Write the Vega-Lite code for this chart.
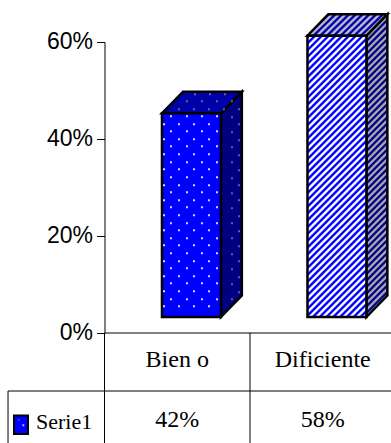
{
"$schema":"https://vega.github.io/schema/vega-lite/v6.json",
"width":286.5,"height":291,
"autosize":{"type":"none"},
"padding":{"left":104.5,"top":42,"right":0,"bottom":110},
"background":"white",
"config":{"view":{"stroke":null},"axisX":{"disable":true}},
"data":{"values":[{"categoria":"Bien o","valor":42},{"categoria":"Dificiente","valor":58}]},
"transform":[
{"calculate":"indexof(['Bien o','Dificiente'],datum.categoria)","as":"idx"},
{"calculate":"datum.idx+0.5","as":"cx"},
{"calculate":"datum.idx+0.395","as":"xL"},
{"calculate":"datum.xL+0.405","as":"xR"},
{"calculate":"[0,1]","as":"prof"},
{"flatten":["prof"]},
{"calculate":"datum.xR+datum.prof*0.144","as":"xLado"},
{"calculate":"datum.xL+datum.prof*0.144","as":"xTecho"},
{"calculate":"datum.xR+datum.prof*0.144","as":"x2Techo"},
{"calculate":"datum.prof*4.43","as":"yBase"},
{"calculate":"datum.valor+datum.prof*4.43","as":"yAlto"}
],
"layer":[
{"transform":[{"filter":"datum.idx==0"}],
 "mark":{"type":"area","fill":"#000080","stroke":"#000","strokeWidth":2.5,"yOffset":-16,"y2Offset":-16},
 "encoding":{"x":{"field":"xLado","type":"quantitative","scale":{"domain":[0,1.969],"nice":false,"zero":false}},
 "y":{"field":"yAlto","type":"quantitative","scale":{"domain":[0,60],"nice":false},"axis":{"title":null,"values":[0,20,40,60],"labelExpr":"datum.value+'%'","domainColor":"#000","tickColor":"#000","tickSize":8,"labelPadding":4,"labelFont":"Liberation Sans","labelFontSize":23,"labelColor":"#000","labelOffset":-1,"grid":false}},
 "y2":{"field":"yBase"}}},
{"transform":[{"filter":"datum.idx==0"}],
 "mark":{"type":"area","orient":"horizontal","fill":"#0000a8","stroke":"#000","strokeWidth":2.5,"yOffset":-16},
 "encoding":{"y":{"field":"yAlto","type":"quantitative"},"x":{"field":"xTecho","type":"quantitative"},"x2":{"field":"x2Techo"}}},
{"transform":[{"filter":"datum.idx==0 && datum.prof==0"}],
 "mark":{"type":"rect","fill":"#0000ff","stroke":"#000","strokeWidth":2.5,"yOffset":-16,"y2Offset":-16},
 "encoding":{"x":{"field":"xL","type":"quantitative"},"x2":{"field":"xR"},"y":{"field":"valor","type":"quantitative"},"y2":{"datum":0}}},
{"transform":[{"filter":"datum.idx==0 && datum.prof==0"}],
 "mark":{"type":"point","filled":true,"fill":"#ffffff","fillOpacity":0.85,"strokeWidth":0,"size":4,"yOffset":-16,
 "shape":"M8 2h2v2h-2zM24 2h2v2h-2zM39 2h2v2h-2zM54 2h2v2h-2zM1 10h2v2h-2zM16 10h2v2h-2zM31 10h2v2h-2zM46 10h2v2h-2zM8 17h2v2h-2zM24 17h2v2h-2zM39 17h2v2h-2zM54 17h2v2h-2zM1 25h2v2h-2zM16 25h2v2h-2zM31 25h2v2h-2zM46 25h2v2h-2zM8 32h2v2h-2zM24 32h2v2h-2zM39 32h2v2h-2zM54 32h2v2h-2zM1 40h2v2h-2zM16 40h2v2h-2zM31 40h2v2h-2zM46 40h2v2h-2zM8 48h2v2h-2zM24 48h2v2h-2zM39 48h2v2h-2zM54 48h2v2h-2zM1 55h2v2h-2zM16 55h2v2h-2zM31 55h2v2h-2zM46 55h2v2h-2zM8 63h2v2h-2zM24 63h2v2h-2zM39 63h2v2h-2zM54 63h2v2h-2zM1 71h2v2h-2zM16 71h2v2h-2zM31 71h2v2h-2zM46 71h2v2h-2zM8 78h2v2h-2zM24 78h2v2h-2zM39 78h2v2h-2zM54 78h2v2h-2zM1 86h2v2h-2zM16 86h2v2h-2zM31 86h2v2h-2zM46 86h2v2h-2zM8 93h2v2h-2zM24 93h2v2h-2zM39 93h2v2h-2zM54 93h2v2h-2zM1 101h2v2h-2zM16 101h2v2h-2zM31 101h2v2h-2zM46 101h2v2h-2zM8 109h2v2h-2zM24 109h2v2h-2zM39 109h2v2h-2zM54 109h2v2h-2zM1 116h2v2h-2zM16 116h2v2h-2zM31 116h2v2h-2zM46 116h2v2h-2zM8 124h2v2h-2zM24 124h2v2h-2zM39 124h2v2h-2zM54 124h2v2h-2zM1 131h2v2h-2zM16 131h2v2h-2zM31 131h2v2h-2zM46 131h2v2h-2zM8 139h2v2h-2zM24 139h2v2h-2zM39 139h2v2h-2zM54 139h2v2h-2zM1 147h2v2h-2zM16 147h2v2h-2zM31 147h2v2h-2zM46 147h2v2h-2zM8 154h2v2h-2zM24 154h2v2h-2zM39 154h2v2h-2zM54 154h2v2h-2zM1 162h2v2h-2zM16 162h2v2h-2zM31 162h2v2h-2zM46 162h2v2h-2zM8 169h2v2h-2zM24 169h2v2h-2zM39 169h2v2h-2zM54 169h2v2h-2zM1 177h2v2h-2zM16 177h2v2h-2zM31 177h2v2h-2zM46 177h2v2h-2zM8 185h2v2h-2zM24 185h2v2h-2zM39 185h2v2h-2zM54 185h2v2h-2zM1 192h2v2h-2zM16 192h2v2h-2zM31 192h2v2h-2zM46 192h2v2h-2z"},
 "encoding":{"x":{"field":"xL","type":"quantitative"},"y":{"field":"valor","type":"quantitative"}}},
{"transform":[{"filter":"datum.idx==0 && datum.prof==0"}],
 "mark":{"type":"point","filled":true,"fill":"#8a8ab0","strokeWidth":0,"size":4,"yOffset":-16,
 "shape":"M69 3h2v2h-2zM69 18h2v2h-2zM69 33h2v2h-2zM69 48h2v2h-2zM69 64h2v2h-2zM69 79h2v2h-2zM69 94h2v2h-2zM69 109h2v2h-2zM69 124h2v2h-2zM69 140h2v2h-2zM69 155h2v2h-2zM69 170h2v2h-2zM69 185h2v2h-2zM76 -5h2v2h-2zM76 10h2v2h-2zM76 26h2v2h-2zM76 41h2v2h-2zM76 56h2v2h-2zM76 71h2v2h-2zM76 86h2v2h-2zM76 102h2v2h-2zM76 117h2v2h-2zM76 132h2v2h-2zM76 147h2v2h-2zM76 163h2v2h-2zM76 178h2v2h-2zM32 -20h2v2h-2zM47 -20h2v2h-2zM62 -20h2v2h-2zM24 -13h2v2h-2zM39 -13h2v2h-2zM54 -13h2v2h-2zM69 -13h2v2h-2zM16 -5h2v2h-2zM31 -5h2v2h-2zM46 -5h2v2h-2zM61 -5h2v2h-2z"},
 "encoding":{"x":{"field":"xL","type":"quantitative"},"y":{"field":"valor","type":"quantitative"}}},
{"transform":[{"filter":"datum.idx==1"}],
 "mark":{"type":"area","stroke":"#000","strokeWidth":2.5,"yOffset":-16,"y2Offset":-16,
 "fill":{"gradient":"linear","x1":0,"y1":0,"x2":0.074,"y2":1.0644,"stops":[{"offset":0,"color":"#008"},{"offset":0.005,"color":"#008"},{"offset":0.01,"color":"#aaa"},{"offset":0.015,"color":"#aaa"},{"offset":0.02,"color":"#008"},{"offset":0.025,"color":"#008"},{"offset":0.03,"color":"#aaa"},{"offset":0.035,"color":"#aaa"},{"offset":0.04,"color":"#008"},{"offset":0.045,"color":"#008"},{"offset":0.05,"color":"#aaa"},{"offset":0.055,"color":"#aaa"},{"offset":0.06,"color":"#008"},{"offset":0.065,"color":"#008"},{"offset":0.07,"color":"#aaa"},{"offset":0.075,"color":"#aaa"},{"offset":0.08,"color":"#008"},{"offset":0.085,"color":"#008"},{"offset":0.09,"color":"#aaa"},{"offset":0.095,"color":"#aaa"},{"offset":0.1,"color":"#008"},{"offset":0.105,"color":"#008"},{"offset":0.11,"color":"#aaa"},{"offset":0.115,"color":"#aaa"},{"offset":0.12,"color":"#008"},{"offset":0.125,"color":"#008"},{"offset":0.13,"color":"#aaa"},{"offset":0.135,"color":"#aaa"},{"offset":0.14,"color":"#008"},{"offset":0.145,"color":"#008"},{"offset":0.15,"color":"#aaa"},{"offset":0.155,"color":"#aaa"},{"offset":0.16,"color":"#008"},{"offset":0.165,"color":"#008"},{"offset":0.17,"color":"#aaa"},{"offset":0.175,"color":"#aaa"},{"offset":0.18,"color":"#008"},{"offset":0.185,"color":"#008"},{"offset":0.19,"color":"#aaa"},{"offset":0.195,"color":"#aaa"},{"offset":0.2,"color":"#008"},{"offset":0.205,"color":"#008"},{"offset":0.21,"color":"#aaa"},{"offset":0.215,"color":"#aaa"},{"offset":0.22,"color":"#008"},{"offset":0.225,"color":"#008"},{"offset":0.23,"color":"#aaa"},{"offset":0.235,"color":"#aaa"},{"offset":0.24,"color":"#008"},{"offset":0.245,"color":"#008"},{"offset":0.25,"color":"#aaa"},{"offset":0.255,"color":"#aaa"},{"offset":0.26,"color":"#008"},{"offset":0.265,"color":"#008"},{"offset":0.27,"color":"#aaa"},{"offset":0.275,"color":"#aaa"},{"offset":0.28,"color":"#008"},{"offset":0.285,"color":"#008"},{"offset":0.29,"color":"#aaa"},{"offset":0.295,"color":"#aaa"},{"offset":0.3,"color":"#008"},{"offset":0.305,"color":"#008"},{"offset":0.31,"color":"#aaa"},{"offset":0.315,"color":"#aaa"},{"offset":0.32,"color":"#008"},{"offset":0.325,"color":"#008"},{"offset":0.33,"color":"#aaa"},{"offset":0.335,"color":"#aaa"},{"offset":0.34,"color":"#008"},{"offset":0.345,"color":"#008"},{"offset":0.35,"color":"#aaa"},{"offset":0.355,"color":"#aaa"},{"offset":0.36,"color":"#008"},{"offset":0.365,"color":"#008"},{"offset":0.37,"color":"#aaa"},{"offset":0.375,"color":"#aaa"},{"offset":0.38,"color":"#008"},{"offset":0.385,"color":"#008"},{"offset":0.39,"color":"#aaa"},{"offset":0.395,"color":"#aaa"},{"offset":0.4,"color":"#008"},{"offset":0.405,"color":"#008"},{"offset":0.41,"color":"#aaa"},{"offset":0.415,"color":"#aaa"},{"offset":0.42,"color":"#008"},{"offset":0.425,"color":"#008"},{"offset":0.43,"color":"#aaa"},{"offset":0.435,"color":"#aaa"},{"offset":0.44,"color":"#008"},{"offset":0.445,"color":"#008"},{"offset":0.45,"color":"#aaa"},{"offset":0.455,"color":"#aaa"},{"offset":0.46,"color":"#008"},{"offset":0.465,"color":"#008"},{"offset":0.47,"color":"#aaa"},{"offset":0.475,"color":"#aaa"},{"offset":0.48,"color":"#008"},{"offset":0.485,"color":"#008"},{"offset":0.49,"color":"#aaa"},{"offset":0.495,"color":"#aaa"},{"offset":0.5,"color":"#008"},{"offset":0.505,"color":"#008"},{"offset":0.51,"color":"#aaa"},{"offset":0.515,"color":"#aaa"},{"offset":0.52,"color":"#008"},{"offset":0.525,"color":"#008"},{"offset":0.53,"color":"#aaa"},{"offset":0.535,"color":"#aaa"},{"offset":0.54,"color":"#008"},{"offset":0.545,"color":"#008"},{"offset":0.55,"color":"#aaa"},{"offset":0.555,"color":"#aaa"},{"offset":0.56,"color":"#008"},{"offset":0.565,"color":"#008"},{"offset":0.57,"color":"#aaa"},{"offset":0.575,"color":"#aaa"},{"offset":0.58,"color":"#008"},{"offset":0.585,"color":"#008"},{"offset":0.59,"color":"#aaa"},{"offset":0.595,"color":"#aaa"},{"offset":0.6,"color":"#008"},{"offset":0.605,"color":"#008"},{"offset":0.61,"color":"#aaa"},{"offset":0.615,"color":"#aaa"},{"offset":0.62,"color":"#008"},{"offset":0.625,"color":"#008"},{"offset":0.63,"color":"#aaa"},{"offset":0.635,"color":"#aaa"},{"offset":0.64,"color":"#008"},{"offset":0.645,"color":"#008"},{"offset":0.65,"color":"#aaa"},{"offset":0.655,"color":"#aaa"},{"offset":0.66,"color":"#008"},{"offset":0.665,"color":"#008"},{"offset":0.67,"color":"#aaa"},{"offset":0.675,"color":"#aaa"},{"offset":0.68,"color":"#008"},{"offset":0.685,"color":"#008"},{"offset":0.69,"color":"#aaa"},{"offset":0.695,"color":"#aaa"},{"offset":0.7,"color":"#008"},{"offset":0.705,"color":"#008"},{"offset":0.71,"color":"#aaa"},{"offset":0.715,"color":"#aaa"},{"offset":0.72,"color":"#008"},{"offset":0.725,"color":"#008"},{"offset":0.73,"color":"#aaa"},{"offset":0.735,"color":"#aaa"},{"offset":0.74,"color":"#008"},{"offset":0.745,"color":"#008"},{"offset":0.75,"color":"#aaa"},{"offset":0.755,"color":"#aaa"},{"offset":0.76,"color":"#008"},{"offset":0.765,"color":"#008"},{"offset":0.77,"color":"#aaa"},{"offset":0.775,"color":"#aaa"},{"offset":0.78,"color":"#008"},{"offset":0.785,"color":"#008"},{"offset":0.79,"color":"#aaa"},{"offset":0.795,"color":"#aaa"},{"offset":0.8,"color":"#008"},{"offset":0.805,"color":"#008"},{"offset":0.81,"color":"#aaa"},{"offset":0.815,"color":"#aaa"},{"offset":0.82,"color":"#008"},{"offset":0.825,"color":"#008"},{"offset":0.83,"color":"#aaa"},{"offset":0.835,"color":"#aaa"},{"offset":0.84,"color":"#008"},{"offset":0.845,"color":"#008"},{"offset":0.85,"color":"#aaa"},{"offset":0.855,"color":"#aaa"},{"offset":0.86,"color":"#008"},{"offset":0.865,"color":"#008"},{"offset":0.87,"color":"#aaa"},{"offset":0.875,"color":"#aaa"},{"offset":0.88,"color":"#008"},{"offset":0.885,"color":"#008"},{"offset":0.89,"color":"#aaa"},{"offset":0.895,"color":"#aaa"},{"offset":0.9,"color":"#008"},{"offset":0.905,"color":"#008"},{"offset":0.91,"color":"#aaa"},{"offset":0.915,"color":"#aaa"},{"offset":0.92,"color":"#008"},{"offset":0.925,"color":"#008"},{"offset":0.93,"color":"#aaa"},{"offset":0.935,"color":"#aaa"},{"offset":0.94,"color":"#008"},{"offset":0.945,"color":"#008"},{"offset":0.95,"color":"#aaa"},{"offset":0.955,"color":"#aaa"},{"offset":0.96,"color":"#008"},{"offset":0.965,"color":"#008"},{"offset":0.97,"color":"#aaa"},{"offset":0.975,"color":"#aaa"},{"offset":0.98,"color":"#008"},{"offset":0.985,"color":"#008"},{"offset":0.99,"color":"#aaa"},{"offset":0.995,"color":"#aaa"},{"offset":1,"color":"#008"}]}},
 "encoding":{"x":{"field":"xLado","type":"quantitative"},"y":{"field":"yAlto","type":"quantitative"},"y2":{"field":"yBase"}}},
{"transform":[{"filter":"datum.idx==1"}],
 "mark":{"type":"area","orient":"horizontal","stroke":"#000","strokeWidth":2.5,"yOffset":-16,
 "fill":{"gradient":"linear","x1":0,"y1":0,"x2":1.185,"y2":0.326,"stops":[{"offset":0,"color":"#00a"},{"offset":0.0167,"color":"#00a"},{"offset":0.0333,"color":"#bbc"},{"offset":0.05,"color":"#bbc"},{"offset":0.0667,"color":"#00a"},{"offset":0.0833,"color":"#00a"},{"offset":0.1,"color":"#bbc"},{"offset":0.1167,"color":"#bbc"},{"offset":0.1333,"color":"#00a"},{"offset":0.15,"color":"#00a"},{"offset":0.1667,"color":"#bbc"},{"offset":0.1833,"color":"#bbc"},{"offset":0.2,"color":"#00a"},{"offset":0.2167,"color":"#00a"},{"offset":0.2333,"color":"#bbc"},{"offset":0.25,"color":"#bbc"},{"offset":0.2667,"color":"#00a"},{"offset":0.2833,"color":"#00a"},{"offset":0.3,"color":"#bbc"},{"offset":0.3167,"color":"#bbc"},{"offset":0.3333,"color":"#00a"},{"offset":0.35,"color":"#00a"},{"offset":0.3667,"color":"#bbc"},{"offset":0.3833,"color":"#bbc"},{"offset":0.4,"color":"#00a"},{"offset":0.4167,"color":"#00a"},{"offset":0.4333,"color":"#bbc"},{"offset":0.45,"color":"#bbc"},{"offset":0.4667,"color":"#00a"},{"offset":0.4833,"color":"#00a"},{"offset":0.5,"color":"#bbc"},{"offset":0.5167,"color":"#bbc"},{"offset":0.5333,"color":"#00a"},{"offset":0.55,"color":"#00a"},{"offset":0.5667,"color":"#bbc"},{"offset":0.5833,"color":"#bbc"},{"offset":0.6,"color":"#00a"},{"offset":0.6167,"color":"#00a"},{"offset":0.6333,"color":"#bbc"},{"offset":0.65,"color":"#bbc"},{"offset":0.6667,"color":"#00a"},{"offset":0.6833,"color":"#00a"},{"offset":0.7,"color":"#bbc"},{"offset":0.7167,"color":"#bbc"},{"offset":0.7333,"color":"#00a"},{"offset":0.75,"color":"#00a"},{"offset":0.7667,"color":"#bbc"},{"offset":0.7833,"color":"#bbc"},{"offset":0.8,"color":"#00a"},{"offset":0.8167,"color":"#00a"},{"offset":0.8333,"color":"#bbc"},{"offset":0.85,"color":"#bbc"},{"offset":0.8667,"color":"#00a"},{"offset":0.8833,"color":"#00a"},{"offset":0.9,"color":"#bbc"},{"offset":0.9167,"color":"#bbc"},{"offset":0.9333,"color":"#00a"},{"offset":0.95,"color":"#00a"},{"offset":0.9667,"color":"#bbc"},{"offset":0.9833,"color":"#bbc"},{"offset":1,"color":"#00a"}]}},
 "encoding":{"y":{"field":"yAlto","type":"quantitative"},"x":{"field":"xTecho","type":"quantitative"},"x2":{"field":"x2Techo"}}},
{"transform":[{"filter":"datum.idx==1 && datum.prof==0"}],
 "mark":{"type":"rect","stroke":"#000","strokeWidth":2.5,"yOffset":-16,"y2Offset":-16,
 "fill":{"gradient":"linear","x1":0,"y1":0,"x2":0.2433,"y2":1.1589,"stops":[{"offset":0,"color":"#00f"},{"offset":0.005,"color":"#00f"},{"offset":0.01,"color":"#fff"},{"offset":0.015,"color":"#fff"},{"offset":0.02,"color":"#00f"},{"offset":0.025,"color":"#00f"},{"offset":0.03,"color":"#fff"},{"offset":0.035,"color":"#fff"},{"offset":0.04,"color":"#00f"},{"offset":0.045,"color":"#00f"},{"offset":0.05,"color":"#fff"},{"offset":0.055,"color":"#fff"},{"offset":0.06,"color":"#00f"},{"offset":0.065,"color":"#00f"},{"offset":0.07,"color":"#fff"},{"offset":0.075,"color":"#fff"},{"offset":0.08,"color":"#00f"},{"offset":0.085,"color":"#00f"},{"offset":0.09,"color":"#fff"},{"offset":0.095,"color":"#fff"},{"offset":0.1,"color":"#00f"},{"offset":0.105,"color":"#00f"},{"offset":0.11,"color":"#fff"},{"offset":0.115,"color":"#fff"},{"offset":0.12,"color":"#00f"},{"offset":0.125,"color":"#00f"},{"offset":0.13,"color":"#fff"},{"offset":0.135,"color":"#fff"},{"offset":0.14,"color":"#00f"},{"offset":0.145,"color":"#00f"},{"offset":0.15,"color":"#fff"},{"offset":0.155,"color":"#fff"},{"offset":0.16,"color":"#00f"},{"offset":0.165,"color":"#00f"},{"offset":0.17,"color":"#fff"},{"offset":0.175,"color":"#fff"},{"offset":0.18,"color":"#00f"},{"offset":0.185,"color":"#00f"},{"offset":0.19,"color":"#fff"},{"offset":0.195,"color":"#fff"},{"offset":0.2,"color":"#00f"},{"offset":0.205,"color":"#00f"},{"offset":0.21,"color":"#fff"},{"offset":0.215,"color":"#fff"},{"offset":0.22,"color":"#00f"},{"offset":0.225,"color":"#00f"},{"offset":0.23,"color":"#fff"},{"offset":0.235,"color":"#fff"},{"offset":0.24,"color":"#00f"},{"offset":0.245,"color":"#00f"},{"offset":0.25,"color":"#fff"},{"offset":0.255,"color":"#fff"},{"offset":0.26,"color":"#00f"},{"offset":0.265,"color":"#00f"},{"offset":0.27,"color":"#fff"},{"offset":0.275,"color":"#fff"},{"offset":0.28,"color":"#00f"},{"offset":0.285,"color":"#00f"},{"offset":0.29,"color":"#fff"},{"offset":0.295,"color":"#fff"},{"offset":0.3,"color":"#00f"},{"offset":0.305,"color":"#00f"},{"offset":0.31,"color":"#fff"},{"offset":0.315,"color":"#fff"},{"offset":0.32,"color":"#00f"},{"offset":0.325,"color":"#00f"},{"offset":0.33,"color":"#fff"},{"offset":0.335,"color":"#fff"},{"offset":0.34,"color":"#00f"},{"offset":0.345,"color":"#00f"},{"offset":0.35,"color":"#fff"},{"offset":0.355,"color":"#fff"},{"offset":0.36,"color":"#00f"},{"offset":0.365,"color":"#00f"},{"offset":0.37,"color":"#fff"},{"offset":0.375,"color":"#fff"},{"offset":0.38,"color":"#00f"},{"offset":0.385,"color":"#00f"},{"offset":0.39,"color":"#fff"},{"offset":0.395,"color":"#fff"},{"offset":0.4,"color":"#00f"},{"offset":0.405,"color":"#00f"},{"offset":0.41,"color":"#fff"},{"offset":0.415,"color":"#fff"},{"offset":0.42,"color":"#00f"},{"offset":0.425,"color":"#00f"},{"offset":0.43,"color":"#fff"},{"offset":0.435,"color":"#fff"},{"offset":0.44,"color":"#00f"},{"offset":0.445,"color":"#00f"},{"offset":0.45,"color":"#fff"},{"offset":0.455,"color":"#fff"},{"offset":0.46,"color":"#00f"},{"offset":0.465,"color":"#00f"},{"offset":0.47,"color":"#fff"},{"offset":0.475,"color":"#fff"},{"offset":0.48,"color":"#00f"},{"offset":0.485,"color":"#00f"},{"offset":0.49,"color":"#fff"},{"offset":0.495,"color":"#fff"},{"offset":0.5,"color":"#00f"},{"offset":0.505,"color":"#00f"},{"offset":0.51,"color":"#fff"},{"offset":0.515,"color":"#fff"},{"offset":0.52,"color":"#00f"},{"offset":0.525,"color":"#00f"},{"offset":0.53,"color":"#fff"},{"offset":0.535,"color":"#fff"},{"offset":0.54,"color":"#00f"},{"offset":0.545,"color":"#00f"},{"offset":0.55,"color":"#fff"},{"offset":0.555,"color":"#fff"},{"offset":0.56,"color":"#00f"},{"offset":0.565,"color":"#00f"},{"offset":0.57,"color":"#fff"},{"offset":0.575,"color":"#fff"},{"offset":0.58,"color":"#00f"},{"offset":0.585,"color":"#00f"},{"offset":0.59,"color":"#fff"},{"offset":0.595,"color":"#fff"},{"offset":0.6,"color":"#00f"},{"offset":0.605,"color":"#00f"},{"offset":0.61,"color":"#fff"},{"offset":0.615,"color":"#fff"},{"offset":0.62,"color":"#00f"},{"offset":0.625,"color":"#00f"},{"offset":0.63,"color":"#fff"},{"offset":0.635,"color":"#fff"},{"offset":0.64,"color":"#00f"},{"offset":0.645,"color":"#00f"},{"offset":0.65,"color":"#fff"},{"offset":0.655,"color":"#fff"},{"offset":0.66,"color":"#00f"},{"offset":0.665,"color":"#00f"},{"offset":0.67,"color":"#fff"},{"offset":0.675,"color":"#fff"},{"offset":0.68,"color":"#00f"},{"offset":0.685,"color":"#00f"},{"offset":0.69,"color":"#fff"},{"offset":0.695,"color":"#fff"},{"offset":0.7,"color":"#00f"},{"offset":0.705,"color":"#00f"},{"offset":0.71,"color":"#fff"},{"offset":0.715,"color":"#fff"},{"offset":0.72,"color":"#00f"},{"offset":0.725,"color":"#00f"},{"offset":0.73,"color":"#fff"},{"offset":0.735,"color":"#fff"},{"offset":0.74,"color":"#00f"},{"offset":0.745,"color":"#00f"},{"offset":0.75,"color":"#fff"},{"offset":0.755,"color":"#fff"},{"offset":0.76,"color":"#00f"},{"offset":0.765,"color":"#00f"},{"offset":0.77,"color":"#fff"},{"offset":0.775,"color":"#fff"},{"offset":0.78,"color":"#00f"},{"offset":0.785,"color":"#00f"},{"offset":0.79,"color":"#fff"},{"offset":0.795,"color":"#fff"},{"offset":0.8,"color":"#00f"},{"offset":0.805,"color":"#00f"},{"offset":0.81,"color":"#fff"},{"offset":0.815,"color":"#fff"},{"offset":0.82,"color":"#00f"},{"offset":0.825,"color":"#00f"},{"offset":0.83,"color":"#fff"},{"offset":0.835,"color":"#fff"},{"offset":0.84,"color":"#00f"},{"offset":0.845,"color":"#00f"},{"offset":0.85,"color":"#fff"},{"offset":0.855,"color":"#fff"},{"offset":0.86,"color":"#00f"},{"offset":0.865,"color":"#00f"},{"offset":0.87,"color":"#fff"},{"offset":0.875,"color":"#fff"},{"offset":0.88,"color":"#00f"},{"offset":0.885,"color":"#00f"},{"offset":0.89,"color":"#fff"},{"offset":0.895,"color":"#fff"},{"offset":0.9,"color":"#00f"},{"offset":0.905,"color":"#00f"},{"offset":0.91,"color":"#fff"},{"offset":0.915,"color":"#fff"},{"offset":0.92,"color":"#00f"},{"offset":0.925,"color":"#00f"},{"offset":0.93,"color":"#fff"},{"offset":0.935,"color":"#fff"},{"offset":0.94,"color":"#00f"},{"offset":0.945,"color":"#00f"},{"offset":0.95,"color":"#fff"},{"offset":0.955,"color":"#fff"},{"offset":0.96,"color":"#00f"},{"offset":0.965,"color":"#00f"},{"offset":0.97,"color":"#fff"},{"offset":0.975,"color":"#fff"},{"offset":0.98,"color":"#00f"},{"offset":0.985,"color":"#00f"},{"offset":0.99,"color":"#fff"},{"offset":0.995,"color":"#fff"},{"offset":1,"color":"#00f"}]}},
 "encoding":{"x":{"field":"xL","type":"quantitative"},"x2":{"field":"xR"},"y":{"field":"valor","type":"quantitative"},"y2":{"datum":0}}},
{"data":{"values":[{"a":0,"b":1.969}]},
 "mark":{"type":"rule","color":"#000","strokeWidth":1},
 "encoding":{"x":{"field":"a","type":"quantitative"},"x2":{"field":"b"},"y":{"datum":0,"type":"quantitative"}}},
{"data":{"values":[{"a":-0.663,"b":1.969}]},
 "mark":{"type":"rule","color":"#000","strokeWidth":1},
 "encoding":{"x":{"field":"a","type":"quantitative"},"x2":{"field":"b"},"y":{"datum":-11.96,"type":"quantitative"}}},
{"data":{"values":[{"a":0,"t":0},{"a":1,"t":0},{"a":-0.663,"t":-11.96}]},
 "mark":{"type":"rule","color":"#000","strokeWidth":1},
 "encoding":{"x":{"field":"a","type":"quantitative"},"y":{"field":"t","type":"quantitative"},"y2":{"datum":-23}}},
{"transform":[{"filter":"datum.prof==0"}],
 "mark":{"type":"text","font":"Liberation Serif","fontSize":24,"color":"#000","yOffset":27},
 "encoding":{"x":{"field":"cx","type":"quantitative"},"y":{"datum":0,"type":"quantitative"},"text":{"field":"categoria"}}},
{"transform":[{"filter":"datum.prof==0"},{"calculate":"datum.valor+'%'","as":"etiqueta"}],
 "mark":{"type":"text","font":"Liberation Serif","fontSize":24,"color":"#000","yOffset":87},
 "encoding":{"x":{"field":"cx","type":"quantitative"},"y":{"datum":0,"type":"quantitative"},"text":{"field":"etiqueta"}}},
{"data":{"values":[{"serie":"Serie1"}]},
 "mark":{"type":"text","font":"Liberation Serif","fontSize":22,"color":"#000","align":"left","yOffset":89},
 "encoding":{"x":{"datum":-0.471,"type":"quantitative"},"y":{"datum":0,"type":"quantitative"},"text":{"field":"serie"}}},
{"data":{"values":[{"serie":"Serie1"}]},
 "mark":{"type":"rect","fill":"#0000ff","stroke":"#000","strokeWidth":2},
 "encoding":{"x":{"datum":-0.622,"type":"quantitative"},"x2":{"datum":-0.526},"y":{"datum":-17,"type":"quantitative"},"y2":{"datum":-20.8}}},
{"data":{"values":[{"serie":"Serie1"}]},
 "mark":{"type":"point","filled":true,"fill":"#ffffff","strokeWidth":0,"size":4,"shape":"M0 0h2v2h-2zM-4 -5h1v1h-1z"},
 "encoding":{"x":{"datum":-0.565,"type":"quantitative"},"y":{"datum":-18.8,"type":"quantitative"}}}
]
}
